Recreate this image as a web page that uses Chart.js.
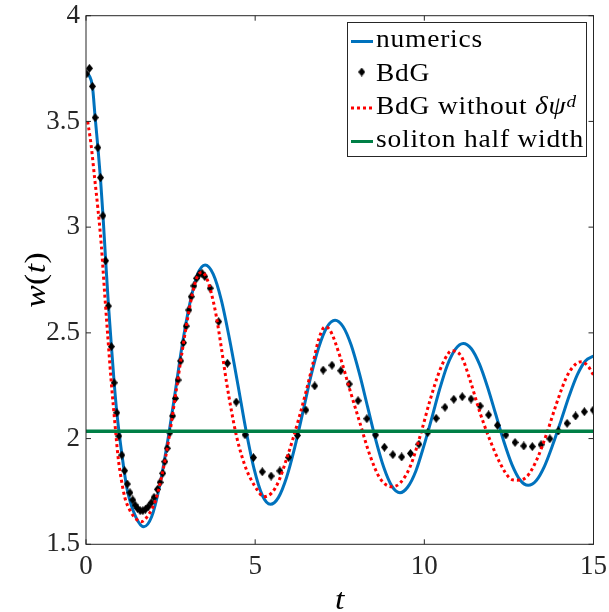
<!DOCTYPE html>
<html>
<head>
<meta charset="utf-8">
<script src="https://cdn.jsdelivr.net/npm/chart.js@4"></script>
<style>
  html, body { margin: 0; padding: 0; background: #fff; }
  #wrap { width: 609px; height: 612px; }
</style>
</head>
<body>
<div id="wrap"><canvas id="chart" width="609" height="612"></canvas></div>
<script>
// soliton width w(t): full numerics vs. BdG prediction

const tNumerics = [0, 0.1, 0.19, 0.27, 0.35, 0.43, 0.5, 0.58, 0.66, 0.75, 0.83, 0.91, 1.07, 1.22, 1.47, 1.71,
  1.94, 2.16, 2.39, 2.62, 2.84, 3.07, 3.29, 3.52, 3.76, 4.0, 4.24, 4.49, 4.73, 4.97, 5.21, 5.45,
  5.69, 5.93, 6.17, 6.41, 6.64, 6.88, 7.12, 7.36, 7.6, 7.84, 8.08, 8.32, 8.56, 8.8, 9.04, 9.28,
  9.51, 9.75, 9.98, 10.22, 10.45, 10.68, 10.92, 11.15, 11.39, 11.63, 11.87, 12.11, 12.35, 12.59, 12.83, 13.07,
  13.31, 13.55, 13.79, 14.04, 14.28, 14.52, 14.76, 15];
const wNumerics = [3.73, 3.715, 3.666, 3.52, 3.38, 3.225, 3.06, 2.845, 2.64, 2.44, 2.27, 2.125, 1.914, 1.757, 1.63, 1.583,
  1.63, 1.764, 1.965, 2.202, 2.439, 2.64, 2.774, 2.821, 2.778, 2.655, 2.472, 2.255, 2.038, 1.855, 1.732, 1.689,
  1.722, 1.817, 1.958, 2.125, 2.291, 2.432, 2.527, 2.56, 2.529, 2.441, 2.308, 2.152, 1.996, 1.864, 1.775, 1.744,
  1.771, 1.847, 1.962, 2.097, 2.232, 2.347, 2.423, 2.45, 2.425, 2.352, 2.243, 2.115, 1.986, 1.877, 1.804, 1.779,
  1.802, 1.869, 1.968, 2.085, 2.201, 2.301, 2.367, 2.39];

const tBdG = [0.02, 0.10, 0.19, 0.27, 0.35, 0.43, 0.50, 0.58, 0.66, 0.75, 0.83, 0.91, 0.97, 1.06, 1.14, 1.22,
  1.30, 1.38, 1.45, 1.52, 1.60, 1.68, 1.76, 1.84, 1.93, 2.01, 2.11, 2.19, 2.27, 2.33, 2.40, 2.48, 2.56, 2.64,
  2.72, 2.80, 2.88, 2.96, 3.04, 3.11, 3.19, 3.27, 3.35, 3.43, 3.51, 3.67, 3.92, 4.18, 4.44, 4.70, 4.95, 5.21,
  5.47, 5.73, 5.99, 6.25, 6.50, 6.76, 7.01, 7.27, 7.53, 7.78, 8.04, 8.30, 8.56, 8.82, 9.07, 9.33, 9.59, 9.84,
  10.10, 10.35, 10.61, 10.87, 11.12, 11.38, 11.65, 11.90, 12.16, 12.41, 12.68, 12.94, 13.19, 13.45, 13.71,
  13.96, 14.22, 14.47, 14.73, 14.99];
const wBdG = [3.725, 3.751, 3.666, 3.518, 3.376, 3.234, 3.054, 2.841, 2.627, 2.435, 2.264, 2.122, 2.012, 1.922, 1.848, 1.785,
  1.744, 1.710, 1.686, 1.670, 1.659, 1.659, 1.666, 1.678, 1.697, 1.722, 1.760, 1.793, 1.836, 1.891, 1.954, 2.028, 2.107, 2.190,
  2.277, 2.367, 2.453, 2.532, 2.608, 2.671, 2.722, 2.758, 2.778, 2.782, 2.766, 2.711, 2.553, 2.356, 2.173, 2.018, 1.910, 1.843,
  1.823, 1.847, 1.911, 2.015, 2.135, 2.249, 2.324, 2.347, 2.321, 2.258, 2.179, 2.094, 2.017, 1.959, 1.924, 1.913, 1.930, 1.973,
  2.028, 2.096, 2.148, 2.186, 2.198, 2.187, 2.154, 2.112, 2.063, 2.017, 1.982, 1.965, 1.962, 1.971, 1.999,
  2.036, 2.072, 2.107, 2.127, 2.135];

// BdG without the delta psi^d contribution
const tNoDpsi = [0.05, 0.15, 0.25, 0.35, 0.45, 0.55, 0.65, 0.75, 0.85, 0.95, 1.05, 1.15, 1.3, 1.45, 1.64, 1.85, 2.05, 2.25, 2.45, 2.65,
  2.85, 3.05, 3.25, 3.42, 3.55, 3.7, 3.85, 4.0, 4.15, 4.3, 4.45, 4.6, 4.75, 4.9, 5.05, 5.26, 5.5, 5.7, 5.9, 6.1,
  6.3, 6.5, 6.7, 6.88, 7.06, 7.21, 7.51, 7.8, 8.1, 8.39, 8.69, 9.04, 9.28, 9.58, 9.87, 10.17, 10.46, 10.71, 10.81, 11.1,
  11.35, 11.65, 11.94, 12.24, 12.53, 12.73, 13.03, 13.32, 13.62, 13.91, 14.21, 14.5, 14.65, 14.85, 15];
const wNoDpsi = [3.5, 3.39, 3.24, 3.09, 2.92, 2.69, 2.47, 2.26, 2.08, 1.91, 1.8, 1.72, 1.66, 1.625, 1.607, 1.64, 1.705, 1.83, 2.0, 2.21,
  2.42, 2.61, 2.75, 2.787, 2.765, 2.69, 2.58, 2.43, 2.27, 2.13, 2.01, 1.92, 1.85, 1.8, 1.76, 1.725, 1.745, 1.8, 1.89, 1.99,
  2.1, 2.22, 2.35, 2.47, 2.528, 2.513, 2.387, 2.23, 2.072, 1.922, 1.812, 1.772, 1.789, 1.867, 2.009, 2.182, 2.324, 2.403, 2.415, 2.387,
  2.277, 2.12, 1.993, 1.883, 1.812, 1.803, 1.82, 1.899, 2.025, 2.167, 2.293, 2.356, 2.363, 2.34, 2.3];

const tHalfWidth = [0, 15];
const wHalfWidth = [2.035, 2.035];

const xTicks = [0, 5, 10, 15];
const xTickLabels = ['0', '5', '10', '15'];
const yTicks = [1.5, 2, 2.5, 3, 3.5, 4];
const yTickLabels = ['1.5', '2', '2.5', '3', '3.5', '4'];

const BLUE = '#0072BD';
const RED = '#FF0000';
const GREEN = '#007F46';
const AXIS = '#262626';
const SERIF = '"Liberation Serif"';

const pts = (xs, ys) => xs.map((x, i) => ({ x: x, y: ys[i] }));

// slightly tall black diamond used for the BdG points
function diamondMarker(w, h) {
    const c = document.createElement('canvas');
    c.width = w;
    c.height = h;
    const g = c.getContext('2d');
    g.fillStyle = '#000';
    g.beginPath();
    g.moveTo(w / 2, 0);
    g.lineTo(w, h / 2);
    g.lineTo(w / 2, h);
    g.lineTo(0, h / 2);
    g.closePath();
    g.fill();
    return c;
}
const marker = diamondMarker(7, 9);

// box around the axes with inward ticks on all four sides
const framePlugin = {
    id: 'frame',
    afterDatasetsDraw(chart) {
        const ctx = chart.ctx;
        const { left, right, top, bottom } = chart.chartArea;
        const xs = chart.scales.x, ys = chart.scales.y;
        ctx.save();
        ctx.strokeStyle = AXIS;
        ctx.lineWidth = 1;
        ctx.strokeRect(left, top, right - left, bottom - top);
        ctx.beginPath();
        xTicks.forEach(v => {
            const px = xs.getPixelForValue(v);
            ctx.moveTo(px, bottom); ctx.lineTo(px, bottom - 5);
            ctx.moveTo(px, top); ctx.lineTo(px, top + 5);
        });
        yTicks.forEach(v => {
            const py = ys.getPixelForValue(v);
            ctx.moveTo(left, py); ctx.lineTo(left + 5, py);
            ctx.moveTo(right, py); ctx.lineTo(right - 5, py);
        });
        ctx.stroke();
        ctx.restore();
    }
};

// text pieces are [text, italic, sizeScale, rise]; glyphs are stretched by sx
// and spaced by gap so the serif face runs as wide as the TeX one
function setFont(ctx, italic, px) {
    ctx.font = (italic ? 'italic ' : '') + px + 'px ' + SERIF;
}
function runsWidth(ctx, runs, size, sx, gap) {
    let w = 0;
    runs.forEach(([txt, italic, scale]) => {
        setFont(ctx, italic, size * scale);
        for (const ch of txt) w += ctx.measureText(ch).width * sx + gap;
    });
    return w - gap;
}
function drawRuns(ctx, runs, x, y, size, sx, gap) {
    runs.forEach(([txt, italic, scale, rise]) => {
        setFont(ctx, italic, size * scale);
        for (const ch of txt) {
            ctx.save();
            ctx.translate(x, y - rise);
            ctx.scale(sx, 1);
            ctx.fillText(ch, 0, 0);
            ctx.restore();
            x += ctx.measureText(ch).width * sx + gap;
        }
    });
    return x;
}

const labelsPlugin = {
    id: 'labels',
    afterDraw(chart) {
        const ctx = chart.ctx;
        const { left, right, top, bottom } = chart.chartArea;
        ctx.save();
        ctx.fillStyle = '#000';
        ctx.textBaseline = 'alphabetic';
        ctx.textAlign = 'left';

        // axis titles
        const tRun = [['t', true, 1, 0]];
        drawRuns(ctx, tRun, (left + right) / 2 - runsWidth(ctx, tRun, 30, 1.12, 0) / 2, 609, 30, 1.12, 0);

        const wRun = [['w', true, 1, 0], ['(', false, 1, 0], ['t', true, 1, 0], [')', false, 1, 0]];
        ctx.save();
        ctx.translate(45, (top + bottom) / 2);
        ctx.rotate(-Math.PI / 2);
        drawRuns(ctx, wRun, -runsWidth(ctx, wRun, 30, 1.12, 0.5) / 2, 0, 30, 1.12, 0.5);
        ctx.restore();

        // legend
        const bx = 347.5, by = 22.5, bw = 239, bh = 134;
        ctx.fillStyle = '#fff';
        ctx.fillRect(bx, by, bw, bh);
        ctx.strokeStyle = AXIS;
        ctx.lineWidth = 1;
        ctx.strokeRect(bx, by, bw, bh);

        const size = 24.5;
        const textX = 376;
        const rows = [
            { base: 47, kind: 'line', color: BLUE, dash: [], runs: [['numerics', false, 1, 0]] },
            { base: 80.5, kind: 'marker', runs: [['BdG', false, 1, 0]] },
            { base: 113.5, kind: 'line', color: RED, dash: [3, 3],
              runs: [['BdG without ', false, 1, 0], ['δψ', true, 1, 0], ['d', true, 0.7, 7]] },
            { base: 147, kind: 'line', color: GREEN, dash: [], runs: [['soliton half width', false, 1, 0]] }
        ];
        rows.forEach(r => {
            if (r.kind === 'line') {
                ctx.save();
                ctx.strokeStyle = r.color;
                ctx.lineWidth = 3;
                ctx.setLineDash(r.dash);
                ctx.beginPath();
                ctx.moveTo(351, r.base - 5.5);
                ctx.lineTo(373, r.base - 5.5);
                ctx.stroke();
                ctx.restore();
            } else {
                ctx.drawImage(marker, 361.7 - marker.width / 2, r.base - 8.5 - marker.height / 2);
            }
            ctx.fillStyle = '#000';
            drawRuns(ctx, r.runs, textX, r.base, size, 1.12, 0.8);
        });
        ctx.restore();
    }
};

Chart.defaults.font.family = SERIF;

new Chart(document.getElementById('chart'), {
    type: 'line',
    data: {
        datasets: [
            { label: 'soliton half width', data: pts(tHalfWidth, wHalfWidth), borderColor: GREEN, borderWidth: 3.5,
              pointRadius: 0, order: 0 },
            { label: 'BdG without δψ^d', data: pts(tNoDpsi, wNoDpsi), borderColor: RED, borderWidth: 3,
              borderDash: [3, 3], pointRadius: 0, cubicInterpolationMode: 'monotone', order: 1 },
            { label: 'BdG', data: pts(tBdG, wBdG), showLine: false, pointStyle: marker, pointRadius: 4,
              pointBackgroundColor: '#000', pointBorderWidth: 0, order: 2 },
            { label: 'numerics', data: pts(tNumerics, wNumerics), borderColor: BLUE, borderWidth: 3,
              pointRadius: 0, cubicInterpolationMode: 'monotone', order: 3 }
        ]
    },
    options: {
        responsive: false,
        animation: false,
        devicePixelRatio: 1,
        layout: { padding: { top: 15.7, right: 15.5, left: 0, bottom: 0 } },
        plugins: { legend: { display: false }, tooltip: { enabled: false } },
        scales: {
            x: {
                type: 'linear', min: 0, max: 15,
                afterBuildTicks: s => { s.ticks = xTicks.map(v => ({ value: v })); },
                afterFit: s => { s.height = 612 - 544.3; s.paddingLeft = 0; s.paddingRight = 0; },
                ticks: { callback: (v, i) => xTickLabels[i], color: AXIS, padding: 9,
                         font: { family: SERIF, size: 27, lineHeight: 1 }, maxRotation: 0, autoSkip: false },
                grid: { display: false, drawTicks: false },
                border: { display: false }
            },
            y: {
                type: 'linear', min: 1.5, max: 4,
                afterBuildTicks: s => { s.ticks = yTicks.map(v => ({ value: v })); },
                afterFit: s => { s.width = 86; s.paddingTop = 0; s.paddingBottom = 0; },
                ticks: { callback: (v, i) => yTickLabels[i], color: AXIS, padding: 6,
                         font: { family: SERIF, size: 27, lineHeight: 1 }, autoSkip: false },
                grid: { display: false, drawTicks: false },
                border: { display: false }
            }
        }
    },
    plugins: [framePlugin, labelsPlugin]
});
</script>
</body>
</html>
